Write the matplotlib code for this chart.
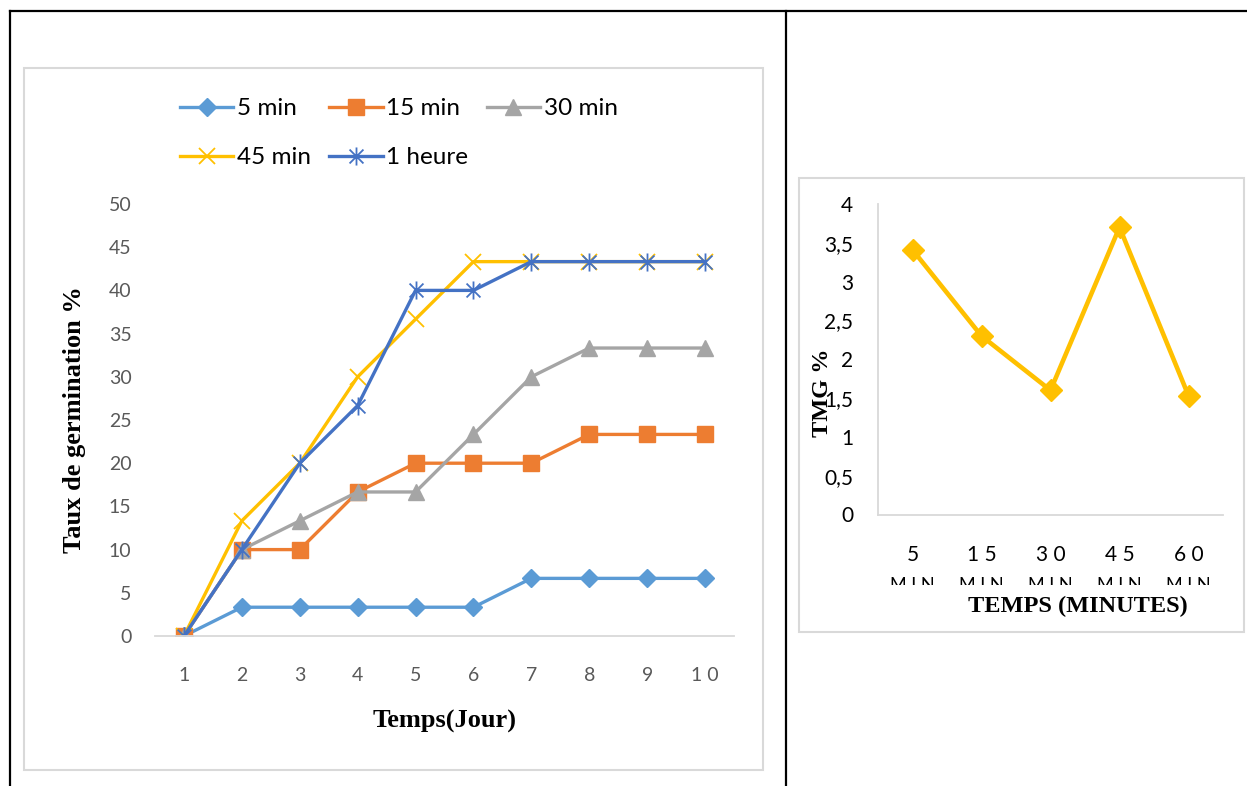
import matplotlib.pyplot as plt
from matplotlib.lines import Line2D
from matplotlib.patches import Rectangle
from matplotlib.path import Path
from matplotlib.transforms import Bbox

# germination rate (%) per day for each soaking duration
days = [1, 2, 3, 4, 5, 6, 7, 8, 9, 10]
germ_5min = [0, 3.33, 3.33, 3.33, 3.33, 3.33, 6.67, 6.67, 6.67, 6.67]
germ_15min = [0, 10, 10, 16.67, 20, 20, 20, 23.33, 23.33, 23.33]
germ_30min = [0, 10, 13.33, 16.67, 16.67, 23.33, 30, 33.33, 33.33, 33.33]
germ_45min = [0, 13.33, 20, 30, 36.67, 43.33, 43.33, 43.33, 43.33, 43.33]
germ_1h = [0, 10, 20, 26.67, 40, 40, 43.33, 43.33, 43.33, 43.33]
series_labels = ["5 min", "15 min", "30 min", "45 min", "1 heure"]

# mean germination time per duration
durations = ["5", "15", "30", "45", "60"]
tmg = [3.41, 2.30, 1.60, 3.70, 1.53]

W, H = 1247, 786
SANS = "Lato"
SERIF = "Liberation Serif"


def fx(x):
    return x / W


def fy(y):
    return 1 - y / H


def spaced(s):
    return " ".join(s)


# Excel-style star: an X with a vertical bar through it
star = Path(
    [(-1, -1), (1, 1), (-1, 1), (1, -1), (0, -1.3), (0, 1.3)],
    [Path.MOVETO, Path.LINETO, Path.MOVETO, Path.LINETO, Path.MOVETO, Path.LINETO],
)

fig = plt.figure(figsize=(W / 100, H / 100), dpi=100)

# table borders around the two charts
for xs, ys in [((10, W), (11, 11)), ((10, 10), (11, H)), ((786, 786), (11, H))]:
    fig.add_artist(Line2D([fx(v) for v in xs], [fy(v) for v in ys],
                          transform=fig.transFigure, color="black", lw=1.6))

# light chart-area frames
for x0, y0, x1, y1 in [(24, 68, 763, 770), (799, 178, 1244, 632)]:
    fig.add_artist(Rectangle((fx(x0), fy(y1)), fx(x1 - x0), (y1 - y0) / H,
                             transform=fig.transFigure, fill=False,
                             edgecolor="#D9D9D9", lw=1.5))

# ---- left chart: germination rate over days ----
ax = fig.add_axes([fx(155), fy(636), (734 - 155) / W, (636 - 204) / H])
styles = [
    dict(color="#5B9BD5", marker="D", ms=9),
    dict(color="#ED7D31", marker="s", ms=11),
    dict(color="#A5A5A5", marker="^", ms=12),
    dict(color="#FFC000", marker="x", ms=11, mew=1.3),
    dict(color="#4472C4", marker=star, ms=13, mew=1.3),
]
handles = []
for vals, lab, st in zip([germ_5min, germ_15min, germ_30min, germ_45min, germ_1h],
                         series_labels, styles):
    (h,) = ax.plot(days, vals, lw=2.4, label=lab, **st)
    handles.append(h)

ax.set_xlim(0.5, 10.5)
ax.set_ylim(0, 50)
ax.set_xticks(days)
ax.set_xticklabels([spaced(str(d)) for d in days])
ax.set_yticks(range(0, 51, 5))
ax.tick_params(length=0, labelsize=14, labelcolor="#595959")
ax.tick_params(axis="y", pad=17)
ax.tick_params(axis="x", pad=22)
for lbl in ax.get_xticklabels() + ax.get_yticklabels():
    lbl.set_family(SANS)
for side in ["top", "right", "left"]:
    ax.spines[side].set_visible(False)
ax.spines["bottom"].set_color("#D9D9D9")
ax.spines["bottom"].set_linewidth(1.3)
ax.set_xlabel("Temps(Jour)", family=SERIF, weight="bold", fontsize=19, va="center")
ax.xaxis.set_label_coords(0.5, (636 - 721) / 432)
ax.set_ylabel("Taux de germination %", family=SERIF, weight="bold", fontsize=19,
              va="center")
ax.yaxis.set_label_coords((75 - 155) / 579, 0.5)

# legend laid out row by row: 5/15/30 on top, 45/1 heure below
order = [0, 3, 1, 4, 2]
fig.legend([handles[i] for i in order], [series_labels[i] for i in order],
           ncol=3, loc="upper left", bbox_to_anchor=(fx(180), fy(98)),
           frameon=False, prop={"family": SANS, "size": 17.5},
           handlelength=2.2, handletextpad=0.15, columnspacing=0.75,
           labelspacing=1.16, borderpad=0, borderaxespad=0)

# ---- right chart: mean germination time ----
ax2 = fig.add_axes([fx(878), fy(514.5), (1223 - 878) / W, (514.5 - 204) / H])
pos = list(range(len(durations)))
ax2.plot(pos, tmg, color="#FFC000", lw=3.3, marker="D", ms=11)
ax2.set_xlim(-0.5, len(durations) - 0.5)
ax2.set_ylim(0, 4)
ax2.set_xticks(pos)
ax2.set_xticklabels([spaced(d) for d in durations])
yt = [0, 0.5, 1, 1.5, 2, 2.5, 3, 3.5, 4]
ax2.set_yticks(yt)
ax2.set_yticklabels([f"{v:g}".replace(".", ",") for v in yt])
ax2.tick_params(length=0, labelsize=15, labelcolor="black")
ax2.tick_params(axis="y", pad=18)
ax2.tick_params(axis="x", pad=22)
for lbl in ax2.get_xticklabels() + ax2.get_yticklabels():
    lbl.set_family(SANS)
for side in ["top", "right"]:
    ax2.spines[side].set_visible(False)
for side in ["left", "bottom"]:
    ax2.spines[side].set_color("#D9D9D9")
    ax2.spines[side].set_linewidth(1.3)

# second line of the category labels, cut off by the label box
clip = Bbox.from_extents(0, H - 585, W, H)
for p in pos:
    t = ax2.text(p, (514.5 - 590) / 310.5, spaced("MIN"), transform=ax2.get_xaxis_transform(),
                 ha="center", va="baseline", family=SANS, fontsize=13)
    t.set_clip_box(clip)
    t.set_clip_on(True)

ax2.set_xlabel("TEMPS (MINUTES)", family=SERIF, weight="bold", fontsize=17.5, va="center")
ax2.xaxis.set_label_coords((1078 - 878) / 345, (514.5 - 606) / 310.5)
ax2.set_ylabel("TMG %", family=SERIF, weight="bold", fontsize=17.5, va="center")
ax2.yaxis.set_label_coords((822 - 878) / 345, (514.5 - 393) / 310.5)

fig.savefig("out.png", dpi=100)
